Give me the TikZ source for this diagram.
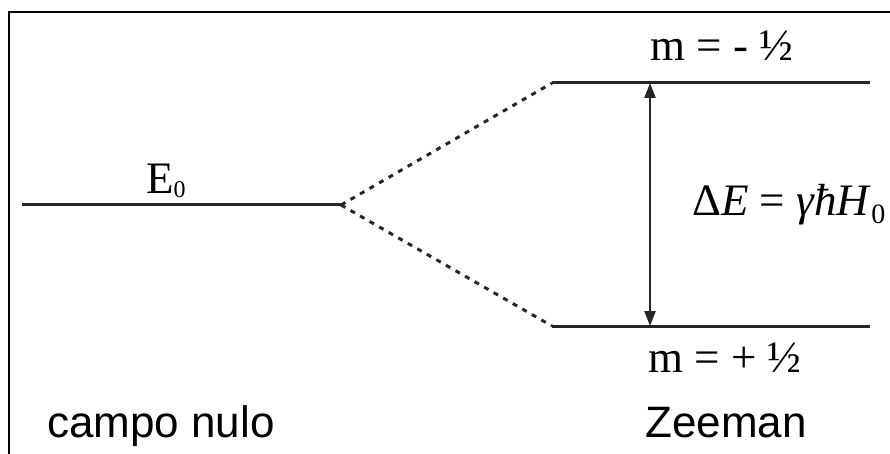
\documentclass[tikz,border=0pt]{standalone}
\usepackage{fontspec}
\setmainfont{Liberation Serif}
\newfontfamily\labelsans{Liberation Sans}
\usetikzlibrary{arrows.meta}
\tikzset{
  level/.style={line width=3pt, black!85},
  split/.style={line width=3pt, black!85, dash pattern=on 5pt off 6pt},
  gap/.style={line width=2.4pt, black!85, {Triangle[length=15pt,width=11pt]}-{Triangle[length=15pt,width=11pt]}},
  serif/.style={font=\fontsize{45}{54}\selectfont, inner sep=0pt, anchor=base west},
  sans/.style={font=\labelsans\fontsize{44}{52}\selectfont, inner sep=0pt, anchor=base west}
}
\begin{document}
\begin{tikzpicture}[x=1pt,y=-1pt]
  \useasboundingbox (0,0) rectangle (890,454);
  \clip (0,0) rectangle (890,454);
  % outer frame (only top and left edges fall inside the page)
  \draw[line width=2.6pt] (9,480) |- (900,12);

  % energy levels
  \coordinate (e0a) at (22,205);
  \coordinate (e0b) at (341,205);
  \coordinate (upa) at (552,83);
  \coordinate (upb) at (870,83);
  \coordinate (loa) at (552,326);
  \coordinate (lob) at (870,326);
  \coordinate (arrTop) at (650,83);
  \coordinate (arrBot) at (650,326);

  \draw[level] (e0a) -- (e0b);
  \draw[level] (upa) -- (upb);
  \draw[level] (loa) -- (lob);

  % splitting in the field
  \draw[split] (e0b) -- (upa);
  \draw[split] (e0b) -- (loa);

  % energy gap
  \draw[gap] (arrBot) -- (arrTop);

  % labels
  \node[serif] (e0) at (146,194)
    {E\raisebox{-4pt}{\fontsize{24}{28}\selectfont 0}};
  \node[serif] (mup) at (650,61) {m = - ½};
  \node[serif] (mlo) at (648,372) {m = + ½};
  \node[serif] (de) at (692,215)
    {Δ\textit{E} = \textit{γħH}\raisebox{-8pt}{\fontsize{28}{34}\selectfont 0}};
  \node[sans] (zero) at (47,437) {campo nulo};
  \node[sans] (zee) at (645,437) {Zeeman};
\end{tikzpicture}
\end{document}
